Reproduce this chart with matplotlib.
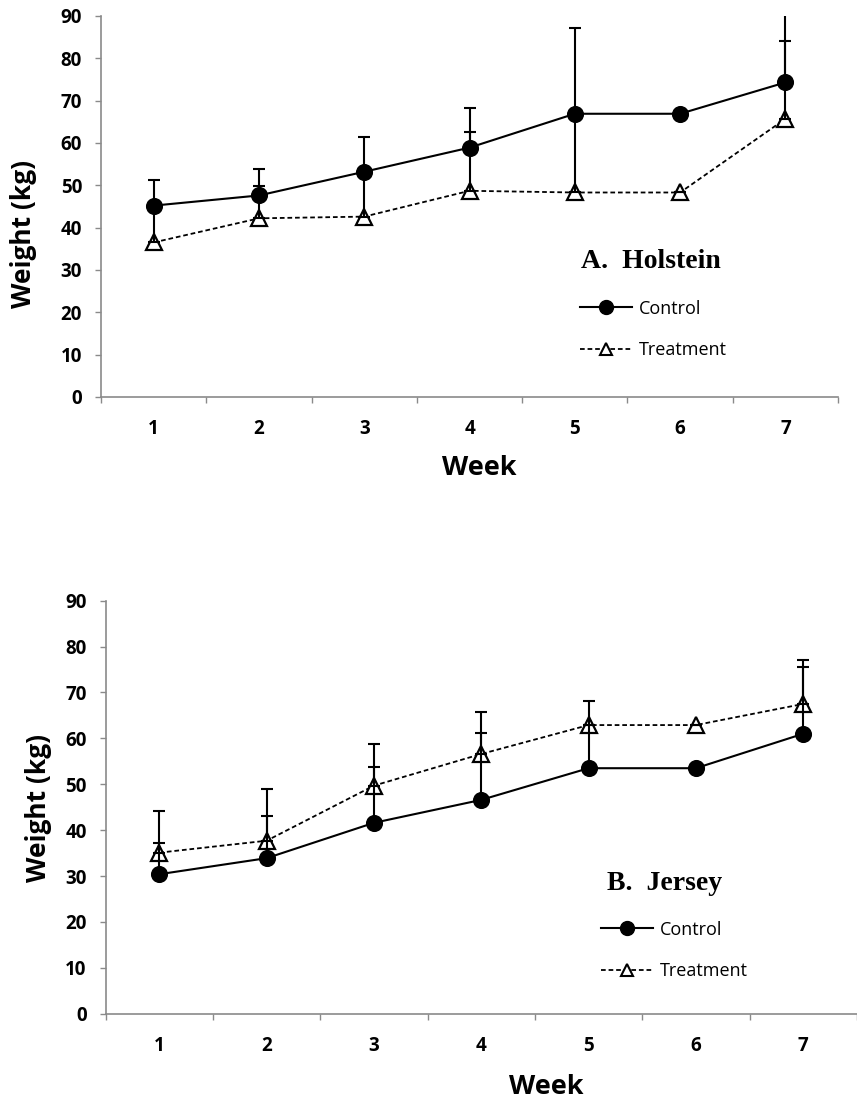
import matplotlib
matplotlib.use("Agg")
import matplotlib.pyplot as plt
import numpy as np

weeks = [1, 2, 3, 4, 5, 6, 7]
week_labels = ["1", "2", "3", "4", "5", "6", "7"]
y_ticks = [0, 10, 20, 30, 40, 50, 60, 70, 80, 90]

# Panel A: Holstein
hol_control = [45.2, 47.6, 53.2, 58.9, 66.9, 66.9, 74.3]
hol_control_err = [6.1, 6.2, 8.1, 9.4, 20.2, 0.0, 18.0]
hol_treat = [36.5, 42.2, 42.6, 48.7, 48.3, 48.3, 65.7]
hol_treat_err = [8.7, 7.6, 10.6, 14.0, 18.6, 0.0, 18.5]

# Panel B: Jersey
jer_control = [30.4, 33.9, 41.6, 46.6, 53.5, 53.5, 61.0]
jer_control_err = [6.7, 9.2, 12.1, 14.5, 9.4, 0.0, 14.5]
jer_treat = [35.1, 37.7, 49.7, 56.6, 62.9, 62.9, 67.5]
jer_treat_err = [9.1, 11.2, 9.1, 9.2, 5.2, 0.0, 9.6]

GRAY = "#8a8a8a"
SANS = ["Open Sans", "DejaVu Sans"]
SERIF = ["Liberation Serif", "DejaVu Serif"]

fig = plt.figure(figsize=(8.57, 11.02), dpi=100)

def panel(rect, control, cerr, treat, terr, title, title_xy, leg_xy,
          xlab_xy, ylab_xy):
    ax = fig.add_axes(rect)
    x = np.array(weeks)
    ax.plot(x, control, color="black", lw=1.5, marker="o", ms=11.3,
            mfc="black", mec="black", zorder=3, label="Control")
    ax.plot(x, treat, color="black", lw=1.3, ls=(0, (2.6, 1.6)), marker="^", ms=11,
            mfc="white", mec="black", mew=1.6, zorder=3, label="Treatment")
    ax.errorbar(x, control, yerr=[np.zeros(len(cerr)), cerr], fmt="none",
                ecolor="black", elinewidth=1.5, capsize=4, capthick=1.5, zorder=4)
    ax.errorbar(x, treat, yerr=[np.zeros(len(terr)), terr], fmt="none",
                ecolor="black", elinewidth=1.5, capsize=4, capthick=1.5, zorder=4)
    ax.set_xlim(0.5, 7.5)
    ax.set_ylim(0, 90)
    ax.set_yticks(y_ticks)
    ax.set_yticklabels([str(v) for v in y_ticks], fontfamily=SANS,
                       fontweight="bold", fontsize=13.5)
    ax.set_xticks(np.arange(0.5, 8.0, 1.0))
    ax.set_xticklabels([])
    ax.set_xticks(weeks, minor=True)
    ax.set_xticklabels(week_labels, minor=True, fontfamily=SANS,
                       fontweight="bold", fontsize=13.5)
    ax.tick_params(axis="x", which="major", direction="out", length=4.3,
                   width=1, color=GRAY)
    ax.tick_params(axis="x", which="minor", length=0, pad=16)
    ax.tick_params(axis="y", direction="out", length=4.3, width=1,
                   color=GRAY, pad=9.4)
    for s in ["top", "right"]:
        ax.spines[s].set_visible(False)
    for s in ["left", "bottom"]:
        ax.spines[s].set_color(GRAY)
        ax.spines[s].set_linewidth(1.2)
    ax.set_xlabel("Week", fontfamily=SANS, fontweight="bold", fontsize=19.5)
    ax.xaxis.set_label_coords(*xlab_xy)
    ax.set_ylabel("Weight (kg)", fontfamily=SANS, fontweight="bold", fontsize=19)
    ax.yaxis.set_label_coords(*ylab_xy)
    ax.text(title_xy[0], title_xy[1], title, transform=ax.transAxes,
            fontfamily=SERIF, fontweight="bold", fontsize=20,
            ha="left", va="baseline")
    leg = ax.legend(loc="upper left", bbox_to_anchor=leg_xy, frameon=False,
                    prop={"family": SANS, "size": 13}, handlelength=2.9,
                    handletextpad=0.35, labelspacing=1.3, borderpad=0,
                    borderaxespad=0)
    handles = leg.legend_handles
    handles[0].set_markersize(10)
    handles[1].set_markersize(8)
    handles[1].set_markeredgewidth(1.5)
    return ax

panel([0.1179, 0.6398, 0.86, 0.3457], hol_control, hol_control_err,
      hol_treat, hol_treat_err, "A.  Holstein", (0.651, 0.339),
      (0.65, 0.255), (0.513, -0.152), (-0.087, 0.428))
panel([0.1233, 0.0801, 0.8765, 0.3748], jer_control, jer_control_err,
      jer_treat, jer_treat_err, "B.  Jersey", (0.6675, 0.2995),
      (0.6595, 0.225), (0.586, -0.146), (-0.0715, 0.498))

fig.savefig("out.png", dpi=100)
